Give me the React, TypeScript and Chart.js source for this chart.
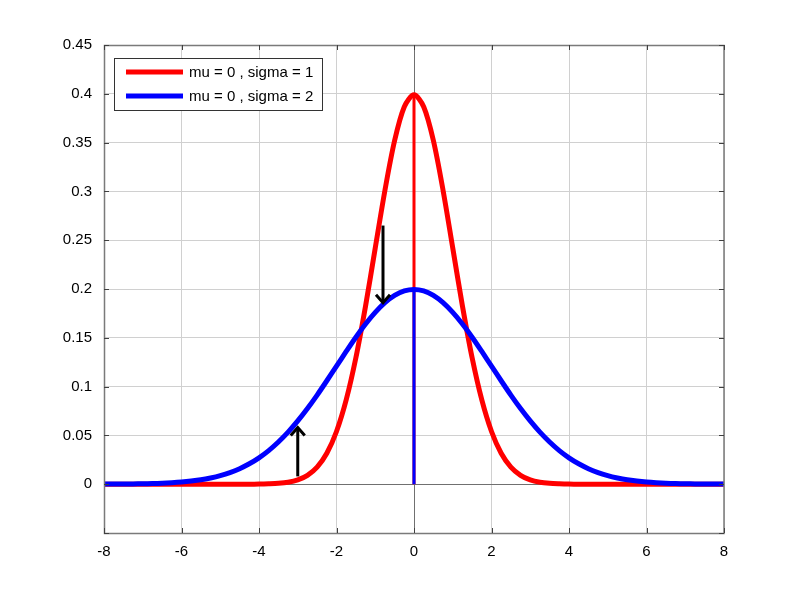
import React, { useEffect, useRef } from "react";
import { Chart, registerables } from "chart.js";

Chart.register(...registerables);

// x positions (step 0.25 from -8 to 8)
const xValues: number[] = [
  -8, -7.75, -7.5, -7.25, -7, -6.75, -6.5, -6.25, -6, -5.75, -5.5, -5.25, -5, -4.75, -4.5, -4.25,
  -4, -3.75, -3.5, -3.25, -3, -2.75, -2.5, -2.25, -2, -1.75, -1.5, -1.25, -1, -0.75, -0.5, -0.25,
  0,
  0.25, 0.5, 0.75, 1, 1.25, 1.5, 1.75, 2, 2.25, 2.5, 2.75, 3, 3.25, 3.5, 3.75,
  4, 4.25, 4.5, 4.75, 5, 5.25, 5.5, 5.75, 6, 6.25, 6.5, 6.75, 7, 7.25, 7.5, 7.75, 8,
];

// mu = 0, sigma = 1
const sigma1Values: number[] = [
  0, 0, 0, 0, 0, 0, 0, 0, 0, 0, 0, 0, 0, 0, 0, 0,
  0.0001, 0.0004, 0.0009, 0.002, 0.0044, 0.0091, 0.0175, 0.0317, 0.054, 0.0863, 0.1295, 0.1826, 0.242, 0.3011, 0.3521, 0.3867,
  0.3989,
  0.3867, 0.3521, 0.3011, 0.242, 0.1826, 0.1295, 0.0863, 0.054, 0.0317, 0.0175, 0.0091, 0.0044, 0.002, 0.0009, 0.0004,
  0.0001, 0, 0, 0, 0, 0, 0, 0, 0, 0, 0, 0, 0, 0, 0, 0, 0,
];

// mu = 0, sigma = 2
const sigma2Values: number[] = [
  0.0001, 0.0001, 0.0002, 0.0003, 0.0004, 0.0007, 0.001, 0.0015, 0.0022, 0.0032, 0.0045, 0.0064, 0.0088, 0.0119, 0.0159, 0.0209,
  0.027, 0.0344, 0.0432, 0.0533, 0.0648, 0.0775, 0.0913, 0.106, 0.121, 0.136, 0.1506, 0.1641, 0.176, 0.186, 0.1934, 0.198,
  0.1995,
  0.198, 0.1934, 0.186, 0.176, 0.1641, 0.1506, 0.136, 0.121, 0.106, 0.0913, 0.0775, 0.0648, 0.0533, 0.0432, 0.0344,
  0.027, 0.0209, 0.0159, 0.0119, 0.0088, 0.0064, 0.0045, 0.0032, 0.0022, 0.0015, 0.001, 0.0007, 0.0004, 0.0003, 0.0002, 0.0001, 0.0001,
];

// peak markers at x = 0
const peakX = 0;
const peak1 = 0.4;
const peak2 = 0.2;

// arrows: [x, yStart, yEnd]
const arrows: [number, number, number][] = [
  [-0.8, 0.265, 0.186],
  [-3, 0.008, 0.058],
];

const legendLabels = ["mu = 0 , sigma = 1", "mu = 0 , sigma = 2"];
const seriesColors = ["#ff0000", "#0000ff"];

const FONT = "15px 'Liberation Sans', Arial, sans-serif";

const decorPlugin = {
  id: "decor",
  afterDatasetsDraw(chart: any) {
    const { ctx, chartArea, scales } = chart;
    const xs = scales.x;
    const ys = scales.y;
    ctx.save();
    // frame
    ctx.strokeStyle = "#7a7a7a";
    ctx.lineWidth = 1.5;
    ctx.strokeRect(chartArea.left + 0.5, chartArea.top + 0.5, chartArea.right - chartArea.left - 0.5, chartArea.bottom - chartArea.top);
    // inward ticks
    ctx.strokeStyle = "#404040";
    ctx.lineWidth = 1;
    ctx.beginPath();
    xs.ticks.forEach((t: any) => {
      const px = Math.round(xs.getPixelForValue(t.value)) + 0.5;
      ctx.moveTo(px, chartArea.bottom);
      ctx.lineTo(px, chartArea.bottom - 5);
      ctx.moveTo(px, chartArea.top);
      ctx.lineTo(px, chartArea.top + 5);
    });
    ys.ticks.forEach((t: any) => {
      const py = Math.round(ys.getPixelForValue(t.value)) + 0.5;
      ctx.moveTo(chartArea.left, py);
      ctx.lineTo(chartArea.left + 5, py);
      ctx.moveTo(chartArea.right, py);
      ctx.lineTo(chartArea.right - 5, py);
    });
    ctx.stroke();

    // arrows
    ctx.strokeStyle = "#000000";
    ctx.lineWidth = 3;
    ctx.lineCap = "butt";
    arrows.forEach(([ax, y0, y1]) => {
      const px = xs.getPixelForValue(ax);
      const p0 = ys.getPixelForValue(y0);
      const p1 = ys.getPixelForValue(y1);
      const dir = p1 > p0 ? 1 : -1;
      ctx.beginPath();
      ctx.moveTo(px, p0);
      ctx.lineTo(px, p1 - dir * 1);
      ctx.stroke();
      ctx.beginPath();
      ctx.moveTo(px - 7, p1 - dir * 8);
      ctx.lineTo(px, p1);
      ctx.lineTo(px + 7, p1 - dir * 8);
      ctx.stroke();
    });

    // legend
    const lx = chartArea.left + 10;
    const ly = chartArea.top + 13;
    const lw = 208;
    const lh = 52;
    ctx.fillStyle = "#ffffff";
    ctx.fillRect(lx, ly, lw, lh);
    ctx.strokeStyle = "#333333";
    ctx.lineWidth = 1;
    ctx.strokeRect(lx + 0.5, ly + 0.5, lw, lh);
    ctx.font = FONT;
    ctx.textBaseline = "middle";
    ctx.textAlign = "left";
    legendLabels.forEach((lab, i) => {
      const yy = ly + 14 + i * 24;
      ctx.strokeStyle = seriesColors[i];
      ctx.lineWidth = 5;
      ctx.beginPath();
      ctx.moveTo(lx + 12, yy);
      ctx.lineTo(lx + 69, yy);
      ctx.stroke();
      ctx.fillStyle = "#000000";
      ctx.fillText(lab, lx + 75, yy + 1);
    });
    ctx.restore();
  },
};

export default function App() {
  const ref = useRef<HTMLCanvasElement>(null);
  useEffect(() => {
    if (!ref.current) return;
    const pts = (ys: number[]) => xValues.map((x, i) => ({ x, y: ys[i] }));
    const chart = new Chart(ref.current, {
      type: "line",
      data: {
        datasets: [
          {
            label: legendLabels[0],
            data: pts(sigma1Values),
            borderColor: seriesColors[0],
            borderWidth: 5,
            pointRadius: 0,
            tension: 0.3,
            fill: false,
            order: 4,
          },
          {
            label: "peak1",
            data: [{ x: peakX, y: 0 }, { x: peakX, y: peak1 }],
            borderColor: seriesColors[0],
            borderWidth: 3,
            pointRadius: 0,
            fill: false,
            order: 3,
          },
          {
            label: legendLabels[1],
            data: pts(sigma2Values),
            borderColor: seriesColors[1],
            borderWidth: 5,
            pointRadius: 0,
            tension: 0.3,
            fill: false,
            order: 2,
          },
          {
            label: "peak2",
            data: [{ x: peakX, y: 0 }, { x: peakX, y: peak2 }],
            borderColor: seriesColors[1],
            borderWidth: 3,
            pointRadius: 0,
            fill: false,
            order: 1,
          },
        ],
      },
      options: {
        responsive: false,
        animation: false,
        layout: { padding: { top: 45, right: 76, left: 0, bottom: 0 } },
        plugins: { legend: { display: false }, tooltip: { enabled: false } },
        scales: {
          x: {
            type: "linear",
            min: -8,
            max: 8,
            border: { display: false },
            grid: {
              color: (c: any) => (c.tick && c.tick.value === 0 ? "#707070" : "#d0d0d0"),
              drawTicks: false,
            },
            ticks: {
              stepSize: 2,
              color: "#000000",
              font: { family: "'Liberation Sans', Arial, sans-serif", size: 15 },
              padding: 10,
              maxRotation: 0,
            },
            afterFit: (s: any) => {
              s.height = 67;
            },
          },
          y: {
            type: "linear",
            min: -0.05,
            max: 0.45,
            border: { display: false },
            grid: {
              color: (c: any) => (c.tick && Math.abs(c.tick.value) < 1e-9 ? "#707070" : "#d0d0d0"),
              drawTicks: false,
            },
            ticks: {
              stepSize: 0.05,
              color: "#000000",
              font: { family: "'Liberation Sans', Arial, sans-serif", size: 15 },
              padding: 12,
              callback: (v: any) => {
                const n = Math.round(Number(v) * 100) / 100;
                if (n < 0) return "";
                return String(n);
              },
            },
            afterFit: (s: any) => {
              s.width = 104;
            },
          },
        },
      },
      plugins: [decorPlugin],
    });
    return () => chart.destroy();
  }, []);
  return (
    <div style={{ position: "fixed", left: 0, top: 0, width: 800, height: 600, background: "#fff" }}>
      <canvas ref={ref} width={800} height={600} style={{ width: 800, height: 600 }} />
    </div>
  );
}
